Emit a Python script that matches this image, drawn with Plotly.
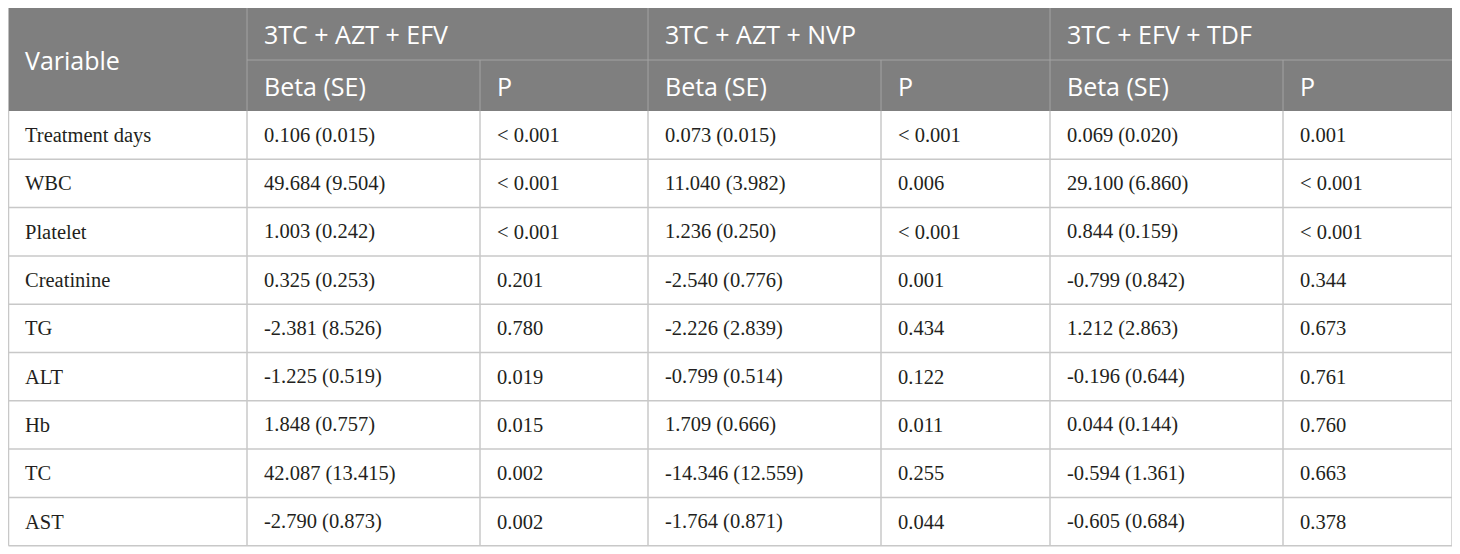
import plotly.graph_objects as go

# table content
variables = ["Treatment days", "WBC", "Platelet", "Creatinine", "TG", "ALT", "Hb", "TC", "AST"]
regimens = ["3TC + AZT + EFV", "3TC + AZT + NVP", "3TC + EFV + TDF"]
sub_headers = ["Beta (SE)", "P"]

beta_azt_efv = ["0.106 (0.015)", "49.684 (9.504)", "1.003 (0.242)", "0.325 (0.253)", "-2.381 (8.526)",
                "-1.225 (0.519)", "1.848 (0.757)", "42.087 (13.415)", "-2.790 (0.873)"]
p_azt_efv = ["< 0.001", "< 0.001", "< 0.001", "0.201", "0.780", "0.019", "0.015", "0.002", "0.002"]

beta_azt_nvp = ["0.073 (0.015)", "11.040 (3.982)", "1.236 (0.250)", "-2.540 (0.776)", "-2.226 (2.839)",
                "-0.799 (0.514)", "1.709 (0.666)", "-14.346 (12.559)", "-1.764 (0.871)"]
p_azt_nvp = ["< 0.001", "0.006", "< 0.001", "0.001", "0.434", "0.122", "0.011", "0.255", "0.044"]

beta_efv_tdf = ["0.069 (0.020)", "29.100 (6.860)", "0.844 (0.159)", "-0.799 (0.842)", "1.212 (2.863)",
                "-0.196 (0.644)", "0.044 (0.144)", "-0.594 (1.361)", "-0.605 (0.684)"]
p_efv_tdf = ["0.001", "< 0.001", "< 0.001", "0.344", "0.673", "0.761", "0.760", "0.663", "0.378"]

columns = [variables, beta_azt_efv, p_azt_efv, beta_azt_nvp, p_azt_nvp, beta_efv_tdf, p_efv_tdf]

# geometry in page pixels (the page body has an 8px margin, so the axes start at 8)
W, H = 1460, 554
OFF = 8
left, top = 8.5, 8
col_w = [238.5, 233, 168, 233, 169, 233, 169]
head_h = [52, 51]
row_h = 48.3
pad = 15

edges = [left]
for w in col_w:
    edges.append(edges[-1] + w)
head_bot = top + sum(head_h)
body_bot = head_bot + row_h * len(variables)

HEAD_FILL = "#7f7f7f"
HEAD_LINE = "#a3a3a3"
BODY_LINE = "#c8c8c8"
TEXT = "#231f20"
head_font = dict(family="Open Sans", size=25, color="white")
body_font = dict(family="Liberation Serif", size=20.5, color=TEXT)

shapes = []
annotations = []


def line(x0, y0, x1, y1, color, width=1.5):
    shapes.append(dict(type="line", x0=x0, y0=y0, x1=x1, y1=y1, xref="x", yref="y",
                       line=dict(color=color, width=width), layer="above"))


def label(x, y, text, font):
    annotations.append(dict(x=x, y=y, xref="x", yref="y", text=text, showarrow=False,
                            xanchor="left", yanchor="middle", font=font))


# header background
shapes.append(dict(type="rect", x0=edges[0], x1=edges[-1], y0=top, y1=head_bot, xref="x", yref="y",
                   fillcolor=HEAD_FILL, line=dict(width=0), layer="below"))

# header lines
line(edges[1], top + head_h[0], edges[-1], top + head_h[0], HEAD_LINE, 1)
for i in (1, 3, 5):
    line(edges[i], top, edges[i], head_bot, HEAD_LINE, 1)
for i in (2, 4, 6):
    line(edges[i], top + head_h[0], edges[i], head_bot, HEAD_LINE, 1)

# header text
label(edges[0] + pad - 1, (top + head_bot) / 2, "Variable", head_font)
for g, name in enumerate(regimens):
    c = 1 + 2 * g
    label(edges[c] + pad, top + head_h[0] / 2, name, head_font)
    for k, sub in enumerate(sub_headers):
        label(edges[c + k] + pad, top + head_h[0] + head_h[1] / 2, sub, head_font)

# body grid
for r in range(1, len(variables) + 1):
    y = head_bot + r * row_h
    line(edges[0], y, edges[-1], y, BODY_LINE)
for x in edges:
    line(x, head_bot, x, body_bot, BODY_LINE)

# body text
for c, values in enumerate(columns):
    for r, v in enumerate(values):
        label(edges[c] + pad - (1 if c == 0 else 0), head_bot + (r + 0.5) * row_h, v, body_font)

fig = go.Figure()
fig.update_layout(
    width=W - OFF, height=H - OFF,
    margin=dict(l=0, r=0, t=0, b=0),
    paper_bgcolor="white", plot_bgcolor="white",
    xaxis=dict(range=[OFF, W], visible=False, fixedrange=True),
    yaxis=dict(range=[H, OFF], visible=False, fixedrange=True),
    shapes=shapes, annotations=annotations,
    showlegend=False,
)

fig.write_html("out.html")
